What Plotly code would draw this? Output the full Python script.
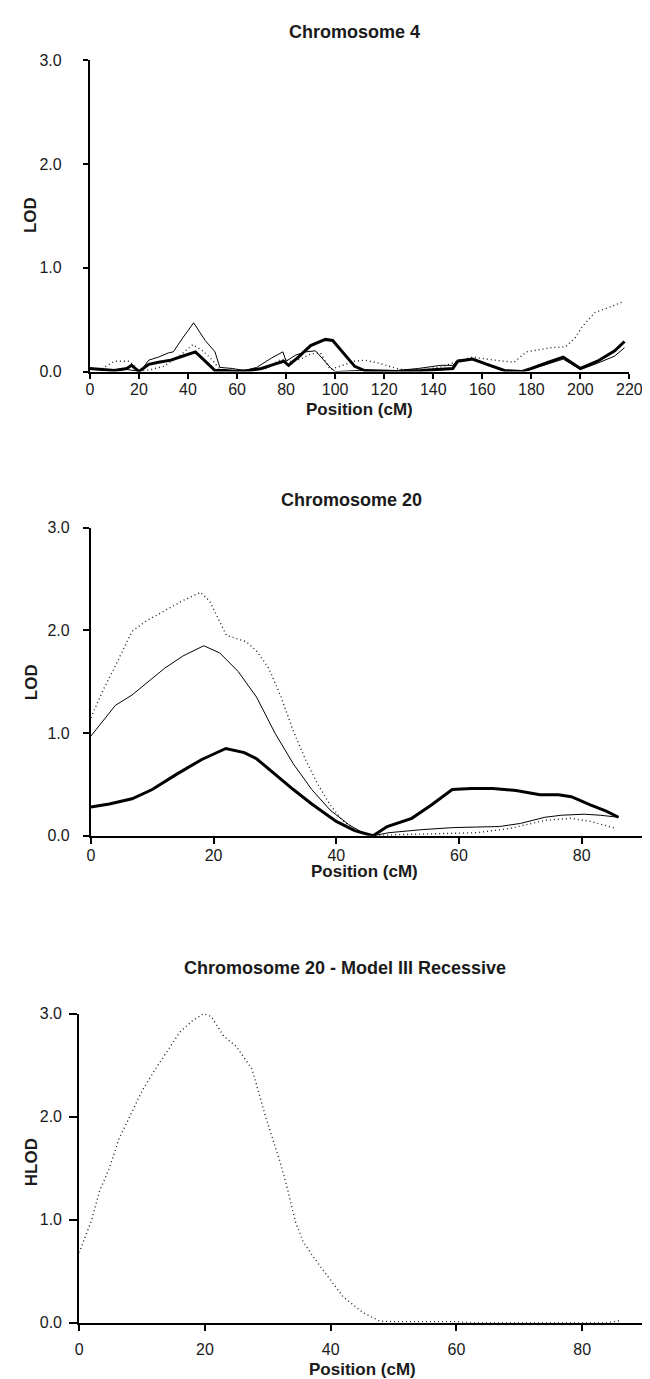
import plotly.graph_objects as go

W, H = 650, 1379

# ---------------- data ----------------
# Chromosome 4 (LOD), three analyses
chr4_thick_pos = [0, 5, 10, 15, 17, 20, 24, 28, 33, 38, 43, 47, 51, 55, 60, 65, 70, 75, 79, 81, 85, 90, 96, 99, 103, 108, 112, 125, 135, 145, 148, 150, 156, 162, 169, 176, 180, 187, 193, 200, 207, 214, 218]
chr4_thick_lod = [0.03, 0.02, 0.01, 0.03, 0.06, 0.0, 0.07, 0.09, 0.11, 0.15, 0.19, 0.1, 0.01, 0.01, 0.0, 0.01, 0.03, 0.07, 0.1, 0.06, 0.14, 0.25, 0.31, 0.3, 0.19, 0.05, 0.01, 0.0, 0.01, 0.02, 0.03, 0.1, 0.12, 0.07, 0.01, 0.0, 0.03, 0.09, 0.14, 0.03, 0.1, 0.2, 0.29]

chr4_thin_pos = [0, 5, 10, 15, 18, 20.5, 24, 28, 32, 34, 38, 42.3, 47, 51, 53, 58, 63, 68, 74, 78.7, 80, 84, 88, 92, 95, 98, 100, 110, 125, 134, 143, 148, 150, 156, 162, 169, 177, 185, 193, 200, 207, 214, 218]
chr4_thin_lod = [0.03, 0.02, 0.02, 0.02, 0.01, 0.0, 0.11, 0.14, 0.18, 0.19, 0.33, 0.47, 0.3, 0.19, 0.04, 0.03, 0.01, 0.04, 0.13, 0.19, 0.1, 0.16, 0.19, 0.2, 0.12, 0.04, 0.0, 0.01, 0.01, 0.03, 0.06, 0.06, 0.11, 0.12, 0.06, 0.01, 0.01, 0.06, 0.12, 0.02, 0.08, 0.15, 0.23]

chr4_dot_pos = [0, 5, 10, 16, 18, 20, 25, 30, 37, 42, 46, 50, 53, 58, 65, 72, 78, 82, 86, 90, 94, 98, 103, 108, 112, 118, 125, 130, 137, 144, 150, 156, 165, 173, 178, 188, 194, 198, 201, 206, 213, 217]
chr4_dot_lod = [0.02, 0.03, 0.1, 0.1, 0.06, 0.0, 0.02, 0.05, 0.16, 0.26, 0.2, 0.11, 0.02, 0.01, 0.01, 0.03, 0.12, 0.1, 0.12, 0.17, 0.18, 0.02, 0.06, 0.1, 0.11, 0.08, 0.03, 0.01, 0.02, 0.05, 0.1, 0.14, 0.11, 0.09, 0.19, 0.23, 0.24, 0.33, 0.44, 0.57, 0.63, 0.67]

# Chromosome 20 (LOD)
chr20_thick_pos = [0, 3, 6.7, 10, 14, 18, 22, 25, 27, 30, 33, 36, 40, 43, 46, 48.3, 52.3, 55.5, 58.9, 62, 65.5, 69.3, 73.2, 76.2, 78.3, 81.4, 84, 86]
chr20_thick_lod = [0.28, 0.31, 0.36, 0.45, 0.6, 0.74, 0.85, 0.81, 0.75, 0.6, 0.45, 0.31, 0.14, 0.05, 0.0, 0.09, 0.17, 0.3, 0.45, 0.46, 0.46, 0.44, 0.4, 0.4, 0.38, 0.3, 0.24, 0.18]

chr20_thin_pos = [0, 2, 4, 6.7, 9, 12, 15, 18.4, 21, 24, 27, 30, 33, 36, 39, 42, 44, 46, 48.6, 54, 59.2, 66.6, 70, 74, 76.7, 80.4, 83, 86]
chr20_thin_lod = [0.97, 1.12, 1.27, 1.37, 1.48, 1.63, 1.75, 1.85, 1.78, 1.6, 1.35, 1.0, 0.7, 0.45, 0.25, 0.11, 0.04, 0.0, 0.03, 0.06, 0.08, 0.09, 0.12, 0.18, 0.2, 0.21, 0.2, 0.18]

chr20_dot_pos = [0, 2, 3.8, 6.7, 9, 12, 15, 17.9, 19.4, 22.1, 25.3, 27, 29, 31, 33, 35, 37, 39, 41, 43, 46, 49.6, 56, 62.9, 68.2, 74, 78.2, 81.4, 85.7]
chr20_dot_lod = [1.15, 1.42, 1.63, 1.99, 2.09, 2.19, 2.29, 2.37, 2.28, 1.95, 1.89, 1.8, 1.63, 1.35, 1.02, 0.74, 0.5, 0.3, 0.15, 0.06, 0.0, 0.01, 0.02, 0.03, 0.07, 0.15, 0.17, 0.14, 0.07]

# Chromosome 20 - Model III Recessive (HLOD)
chr20r_pos = [0, 2, 3.2, 4.8, 6.3, 8, 10, 12, 14, 16, 18, 19.8, 21, 22, 23, 25, 27.5, 29.6, 32, 33, 34.4, 35.6, 37, 38.8, 42, 45.2, 47.8, 50, 55, 60, 62, 70, 80, 84, 86]
chr20r_hlod = [0.68, 1.0, 1.27, 1.5, 1.78, 2.0, 2.25, 2.45, 2.64, 2.82, 2.93, 3.0, 2.97, 2.88, 2.78, 2.68, 2.46, 2.01, 1.55, 1.33, 0.98, 0.79, 0.66, 0.51, 0.25, 0.095, 0.016, 0.01, 0.01, 0.01, 0.0, 0.0, 0.0, 0.0, 0.02]

y_ticks = [0, 1, 2, 3]
y_ticktext = ["0.0", "1.0", "2.0", "3.0"]
chr4_xticks = list(range(0, 221, 20))
chr20_xticks = [0, 20, 40, 60, 80]

FONT = "Liberation Sans, Arial, Helvetica, sans-serif"
TXT = "#1a1a1a"


def px_x(p):
    return p / W


def px_y(p):
    return 1 - p / H


fig = go.Figure()

thick = dict(color="black", width=3)
thin = dict(color="black", width=1)
dotted = dict(color="#222", width=1.4, dash="1px,3px")


def add(x, y, line, ax):
    fig.add_trace(go.Scatter(x=x, y=y, mode="lines", line=line, xaxis="x" + ax, yaxis="y" + ax,
                             showlegend=False, hoverinfo="skip"))


add(chr4_dot_pos, chr4_dot_lod, dotted, "")
add(chr4_thin_pos, chr4_thin_lod, thin, "")
add(chr4_thick_pos, chr4_thick_lod, thick, "")

add(chr20_dot_pos, chr20_dot_lod, dotted, "2")
add(chr20_thin_pos, chr20_thin_lod, thin, "2")
add(chr20_thick_pos, chr20_thick_lod, thick, "2")

add(chr20r_pos, chr20r_hlod, dotted, "3")

tickfont = dict(family=FONT, size=16, color=TXT)
xbase = dict(showline=True, linecolor="black", linewidth=2, ticks="outside", ticklen=6,
             tickwidth=1.5, tickcolor="black", showgrid=False, zeroline=False,
             tickfont=tickfont, fixedrange=True)
ybase = dict(showline=True, linecolor="black", linewidth=2, ticks="outside", ticklen=6,
             tickwidth=1.5, tickcolor="black", showgrid=False, zeroline=False,
             tickvals=y_ticks, ticktext=y_ticktext, range=[0, 3],
             tickfont=tickfont, fixedrange=True)

fig.update_layout(
    width=W, height=H,
    margin=dict(l=0, r=0, t=0, b=0),
    paper_bgcolor="white", plot_bgcolor="white",
    xaxis=dict(xbase, domain=[px_x(80), px_x(634)], range=[0, 220], tickvals=chr4_xticks,
               anchor="y", ticklen=5, ticklabelstandoff=-3),
    yaxis=dict(ybase, domain=[px_y(360), px_y(45)], anchor="x", ticklen=5, ticklabelstandoff=18),
    xaxis2=dict(xbase, domain=[px_x(81), px_x(648)], range=[0, 90], tickvals=chr20_xticks,
                anchor="y2", ticklabelstandoff=-2),
    yaxis2=dict(ybase, domain=[px_y(830), px_y(518)], anchor="x2", ticklabelstandoff=10),
    xaxis3=dict(xbase, domain=[px_x(69), px_x(650)], range=[0, 90], tickvals=chr20_xticks,
                anchor="y3", ticklabelstandoff=5),
    yaxis3=dict(ybase, domain=[px_y(1323), px_y(1010)], anchor="x3", ticklen=8, ticklabelstandoff=4),
)


def ann(text, xp, yp, size=17, angle=0):
    fig.add_annotation(text="<b>%s</b>" % text, x=px_x(xp), y=px_y(yp), xref="paper", yref="paper",
                       showarrow=False, xanchor="center", yanchor="middle", textangle=angle,
                       font=dict(family=FONT, size=size, color=TXT))


ann("Chromosome 4", 352, 16, size=18)
ann("Position (cM)", 357, 398)
ann("LOD", 19, 202, angle=-90)

ann("Chromosome 20", 349, 490, size=18)
ann("Position (cM)", 362, 866)
ann("LOD", 20, 674, angle=-90)

ann("Chromosome 20 - Model III Recessive", 342, 964, size=18)
ann("Position (cM)", 360, 1370)
ann("HLOD", 20, 1160, angle=-90)

fig.write_html("out.html")
